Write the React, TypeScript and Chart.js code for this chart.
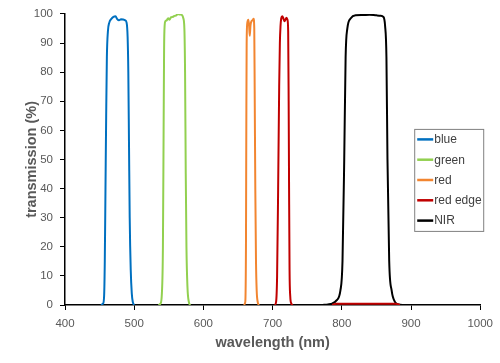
import React, { useEffect, useRef } from "react";
import { Chart, registerables } from "chart.js";

Chart.register(...registerables);

// ---- data (wavelength nm, transmission %) ----
const seriesLabels = ["blue", "green", "red", "red edge", "NIR"];
const seriesColors = ["#0070C0", "#92D050", "#F28530", "#C00000", "#000000"];

const blueNm = [452, 455, 456.5, 457.5, 458.5, 459.5, 460.5, 462, 464, 467, 470, 473, 475.5, 478, 481, 484, 487, 489, 490.5, 491.5, 492.5, 493.5, 495, 496.5, 498, 500];
const blueT = [0, 0.5, 3, 15, 40, 65, 85, 94, 97, 98.3, 99, 99.2, 98.2, 97.8, 98.2, 98.1, 97.8, 97, 92, 80, 55, 30, 12, 4, 1, 0];

const greenNm = [535, 538, 540, 541.5, 542.5, 543.2, 544, 545, 547, 549, 551, 553, 556, 558, 561, 563, 566, 569, 571, 572.5, 573.5, 574.5, 575.5, 577, 579, 581];
const greenT = [0, 0.5, 4, 20, 60, 88, 96, 97.5, 97.8, 98.5, 98, 98.8, 99, 99.3, 99.5, 100, 99.8, 99.6, 98.5, 95, 80, 45, 20, 6, 1, 0];

const redNm = [658, 660.5, 661.5, 662, 662.5, 663.5, 665, 666, 667, 668, 669.5, 671, 672.5, 673.5, 674.2, 675, 676, 677, 678.5, 680];
const redT = [0, 1, 20, 60, 90, 97, 98, 96, 92.5, 96, 97.5, 97.8, 98.3, 95, 70, 40, 15, 5, 1, 0];

const redEdgeNm = [703, 705, 706.5, 708, 709.5, 710.5, 711.5, 712.5, 714, 715.5, 717, 718.5, 720, 721.5, 722.5, 723.2, 723.8, 724.5, 725.5, 727, 729, 760, 786, 792, 878, 884];
const redEdgeT = [0, 1, 10, 40, 75, 90, 96, 98.5, 99.2, 98.5, 97.5, 98, 98.7, 98, 94, 70, 40, 12, 3, 0.5, 0, null, 0, 0.4, 0.4, 0];

const nirNm = [772, 780, 786, 792, 798, 801, 803.5, 805.5, 808, 813, 820, 830, 840, 850, 856, 860, 862.5, 864.5, 866, 868.5, 872, 877, 882, 890];
const nirT = [0, 0.2, 0.5, 1.5, 5, 15, 50, 85, 95, 98.5, 99.5, 99.6, 99.7, 99.5, 99.4, 99, 96, 85, 50, 15, 5, 1, 0.2, 0];

const xTicks = [400, 500, 600, 700, 800, 900, 1000];
const yTicks = [0, 10, 20, 30, 40, 50, 60, 70, 80, 90, 100];

const xTitle = "wavelength (nm)";
const yTitle = "transmission (%)";

const allNm = [blueNm, greenNm, redNm, redEdgeNm, nirNm];
const allT = [blueT, greenT, redT, redEdgeT, nirT];

const FONT = "'Liberation Sans', Arial, sans-serif";

const boxLegend = {
  id: "boxLegend",
  afterDraw(chart: any) {
    const ctx = chart.ctx;
    const { right, top } = chart.chartArea;
    const x0 = right - 66;
    const y0 = top + 115;
    const w = 69;
    const h = 102;
    ctx.save();
    ctx.fillStyle = "#ffffff";
    ctx.fillRect(x0, y0, w, h);
    ctx.strokeStyle = "#808080";
    ctx.lineWidth = 1;
    ctx.strokeRect(x0 + 0.5, y0 + 0.5, w, h);
    chart.data.datasets.forEach((ds: any, i: number) => {
      const y = y0 + 10.5 + i * 20.3;
      ctx.strokeStyle = ds.borderColor;
      ctx.lineWidth = 2.5;
      ctx.beginPath();
      ctx.moveTo(x0 + 3, y);
      ctx.lineTo(x0 + 19, y);
      ctx.stroke();
      ctx.fillStyle = "#404040";
      ctx.font = `12px ${FONT}`;
      ctx.textBaseline = "middle";
      ctx.textAlign = "left";
      ctx.fillText(ds.label, x0 + 20, y + 0.5);
    });
    ctx.restore();
  },
};

export default function App() {
  const ref = useRef<HTMLCanvasElement>(null);
  useEffect(() => {
    document.body.style.margin = "0";
    const datasets = seriesLabels.map((label, i) => ({
      label,
      data: allNm[i].map((x, j) => ({ x, y: allT[i][j] })),
      borderColor: seriesColors[i],
      backgroundColor: seriesColors[i],
      borderWidth: 2,
      pointRadius: 0,
      fill: false,
      spanGaps: false,
      cubicInterpolationMode: "monotone" as const,
    }));
    const chart = new Chart(ref.current!, {
      type: "line",
      data: { datasets },
      plugins: [boxLegend],
      options: {
        responsive: false,
        animation: false,
        layout: { padding: { top: 12, right: 19, left: 0, bottom: 0 } },
        plugins: { legend: { display: false }, tooltip: { enabled: false } },
        scales: {
          x: {
            type: "linear",
            min: 400,
            max: 1000,
            afterFit: (s: any) => { s.height = 58; },
            afterBuildTicks: (s: any) => { s.ticks = xTicks.map((v) => ({ value: v })); },
            ticks: { color: "#595959", font: { family: FONT, size: 11.5 }, padding: 7, maxRotation: 0, callback: (v: any) => String(v) },
            grid: { drawOnChartArea: false, drawTicks: true, tickLength: 5, color: "#000000", tickWidth: 1 },
            border: { color: "#000000", width: 1.5 },
            title: { display: true, text: xTitle, color: "#595959", font: { family: FONT, size: 14.5, weight: "bold" }, padding: { top: 0, bottom: 11.3 } },
          },
          y: {
            type: "linear",
            min: 0,
            max: 100,
            afterFit: (s: any) => { s.width = 65; },
            afterBuildTicks: (s: any) => { s.ticks = yTicks.map((v) => ({ value: v })); },
            ticks: { color: "#595959", font: { family: FONT, size: 11.5 }, padding: 7, callback: (v: any) => String(v) },
            grid: { drawOnChartArea: false, drawTicks: true, tickLength: 5, color: "#000000", tickWidth: 1 },
            border: { color: "#000000", width: 1.5 },
            title: { display: true, text: yTitle, color: "#595959", font: { family: FONT, size: 14.5, weight: "bold" }, padding: { top: 23.3, bottom: 0 } },
          },
        },
      },
    });
    return () => chart.destroy();
  }, []);
  return (
    <div style={{ width: 500, height: 363 }}>
      <canvas ref={ref} width={500} height={363} />
    </div>
  );
}
